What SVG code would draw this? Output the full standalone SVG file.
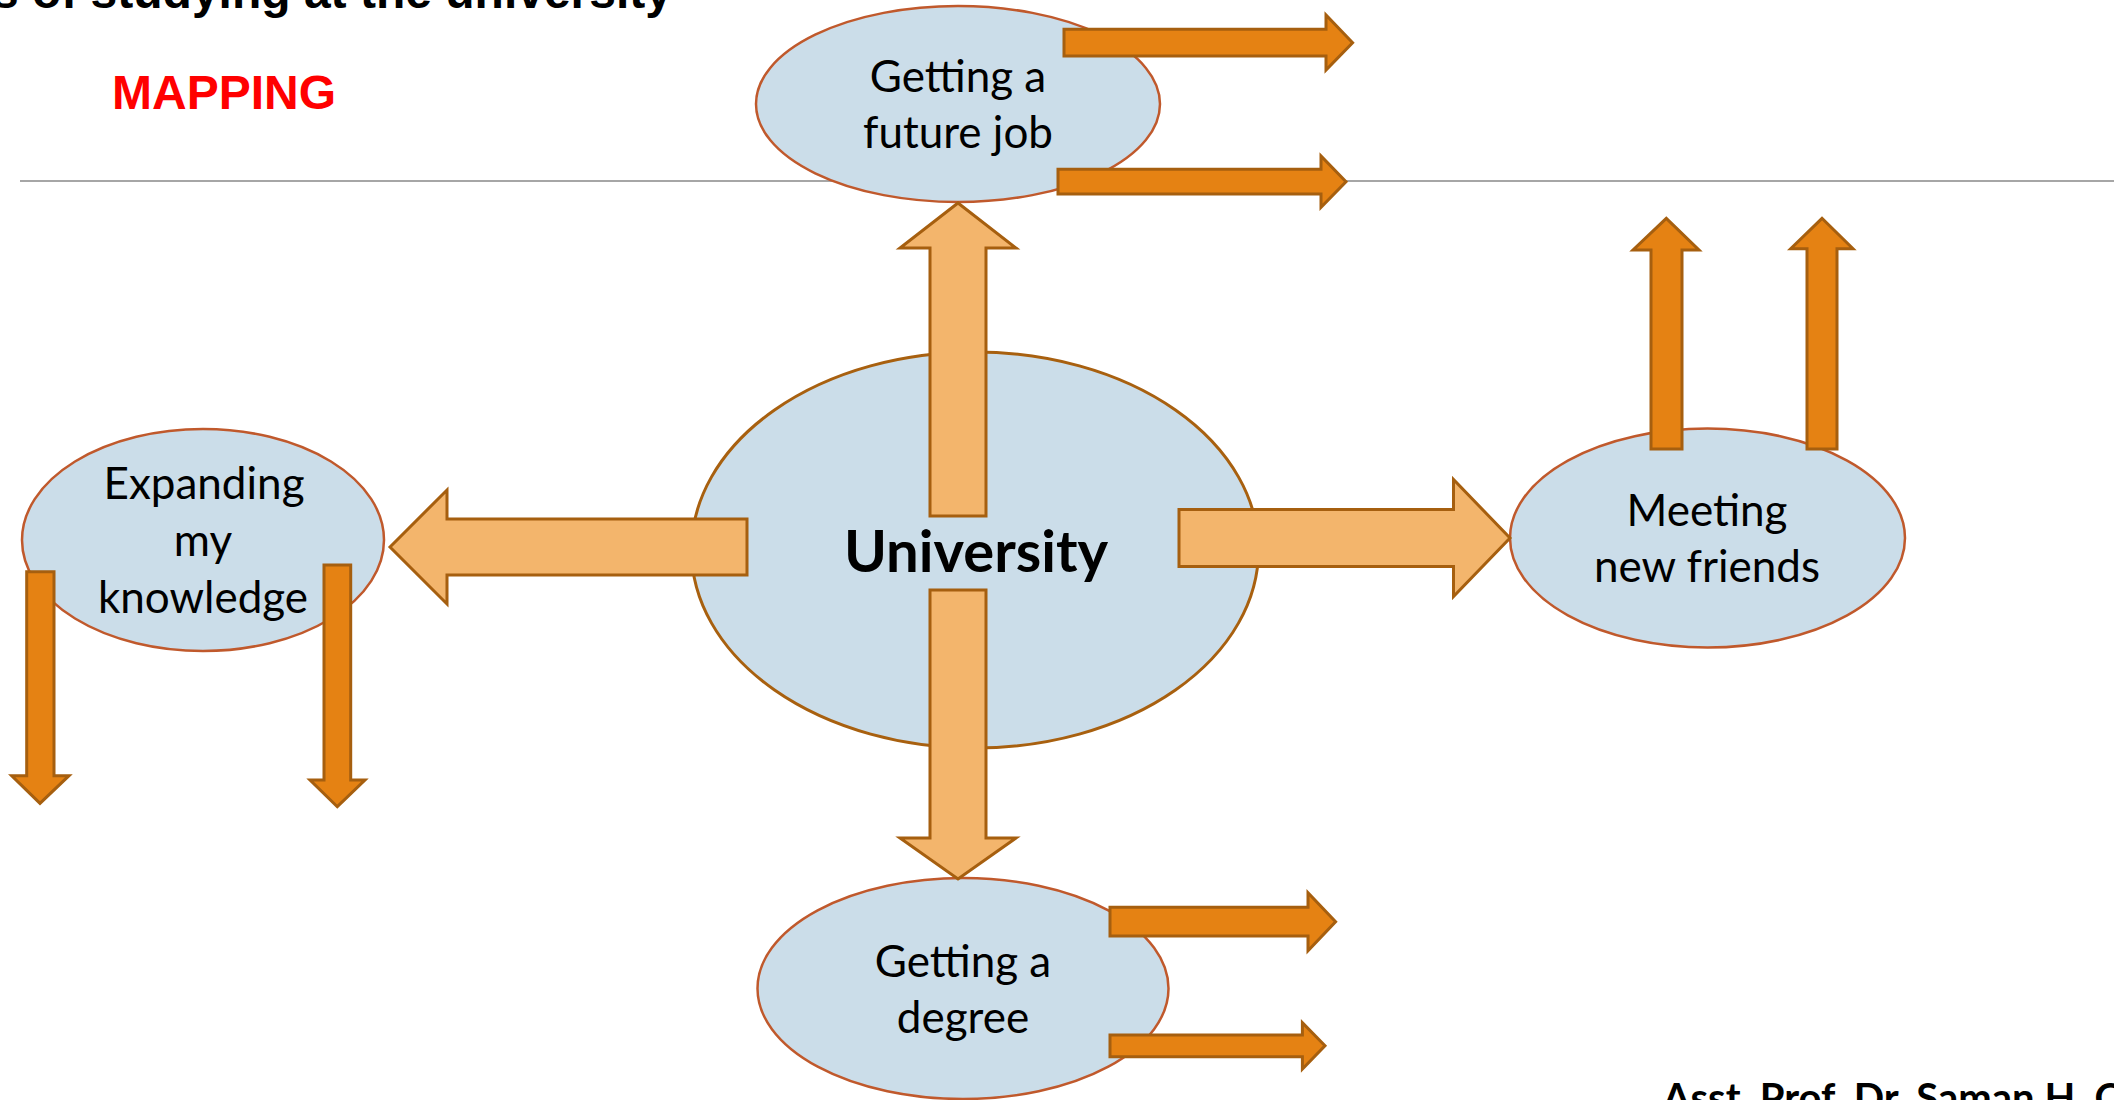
<svg xmlns="http://www.w3.org/2000/svg" width="2114" height="1100" viewBox="0 0 2114 1100">
<style>
.bg{fill:#ffffff}
.rule{stroke:#a6a6a6;stroke-width:2}
.node{fill:#cbdde9;stroke:#c0592c;stroke-width:2.5}
.hub{fill:#cbdde9;stroke:#a8600f;stroke-width:3}
.lt{fill:#f3b56c;stroke:#a65f0f;stroke-width:3;stroke-linejoin:miter}
.dk{fill:#e58213;stroke:#a65f0f;stroke-width:3;stroke-linejoin:miter}
.lbl{font-family:Lato,"Open Sans","Liberation Sans",sans-serif;font-size:44px;fill:#000;text-anchor:middle}
.hubl{font-family:Lato,"Open Sans","Liberation Sans",sans-serif;font-size:58px;font-weight:bold;fill:#000;text-anchor:middle}
.title{font-family:"Liberation Sans",Arial,sans-serif;font-size:48px;font-weight:bold;fill:#000}
.map{font-family:"Liberation Sans",Arial,sans-serif;font-size:48px;font-weight:bold;fill:#ff0000}
.auth{font-family:Lato,"Open Sans","Liberation Sans",sans-serif;font-size:40px;font-weight:bold;fill:#000}
</style>
<rect class="bg" x="0" y="0" width="2114" height="1100"/>
<text class="title" x="672" y="8" text-anchor="end">s of studying at the university</text>
<text class="map" x="112" y="109">MAPPING</text>
<line class="rule" x1="20" y1="181" x2="2114" y2="181"/>

<g id="university">
<ellipse class="hub" cx="975" cy="550" rx="283.5" ry="198"/>
<text class="hubl" x="976" y="572">University</text>
</g>
<g id="future-job">
<ellipse class="node" cx="958" cy="104" rx="202" ry="98"/>
<text class="lbl" x="958" y="92">Getting a</text>
<text class="lbl" x="958" y="148">future job</text>
</g>
<g id="expanding">
<ellipse class="node" cx="203" cy="540" rx="181" ry="111"/>
<text class="lbl" x="204" y="499">Expanding</text>
<text class="lbl" x="203" y="556">my</text>
<text class="lbl" x="203" y="613">knowledge</text>
</g>
<g id="meeting">
<ellipse class="node" cx="1707.5" cy="538" rx="197.5" ry="109.5"/>
<text class="lbl" x="1707" y="526">Meeting</text>
<text class="lbl" x="1707" y="582">new friends</text>
</g>
<g id="degree">
<ellipse class="node" cx="963" cy="988.5" rx="205.5" ry="110.5"/>
<text class="lbl" x="963" y="977">Getting a</text>
<text class="lbl" x="963" y="1033">degree</text>
</g>

<g id="connectors">
<polygon class="lt" points="958,203 1016,248 986,248 986,516 930,516 930,248 900,248"/>
<polygon class="lt" points="930,590 986,590 986,838 1016,838 958,879 900,838 930,838"/>
<polygon class="lt" points="390,547 447,490 447,519 747,519 747,575 447,575 447,604"/>
<polygon class="lt" points="1179,509.5 1453.5,509.5 1453.5,479.5 1510,538 1453.5,596.5 1453.5,566.5 1179,566.5"/>
<polygon class="dk" points="1064,29.3 1326,29.3 1326,15 1352.6,42.7 1326,70 1326,56 1064,56"/>
<polygon class="dk" points="1058,169.3 1321,169.3 1321,156 1346,181.7 1321,207.3 1321,194 1058,194"/>
<polygon class="dk" points="1110,907.3 1308,907.3 1308,892.7 1335.6,921.7 1308,950.7 1308,936 1110,936"/>
<polygon class="dk" points="1110,1035 1302.4,1035 1302.4,1022.7 1325,1045.8 1302.4,1069 1302.4,1056.7 1110,1056.7"/>
<polygon class="dk" points="1651,449 1651,250 1633,250 1666.3,218.3 1699,250 1682,250 1682,449"/>
<polygon class="dk" points="1807,449 1807,248.7 1790.7,248.7 1822,218.3 1853,248.7 1837,248.7 1837,449"/>
<polygon class="dk" points="26.7,571.7 54,571.7 54,775.7 69,775.7 40,803.3 11.7,775.7 26.7,775.7"/>
<polygon class="dk" points="324,565 350.7,565 350.7,780 365,780 337.3,806.7 310,780 324,780"/>
</g>

<text class="auth" x="1662.7" y="1112">Asst. Prof. Dr. Saman H. O</text>
</svg>
